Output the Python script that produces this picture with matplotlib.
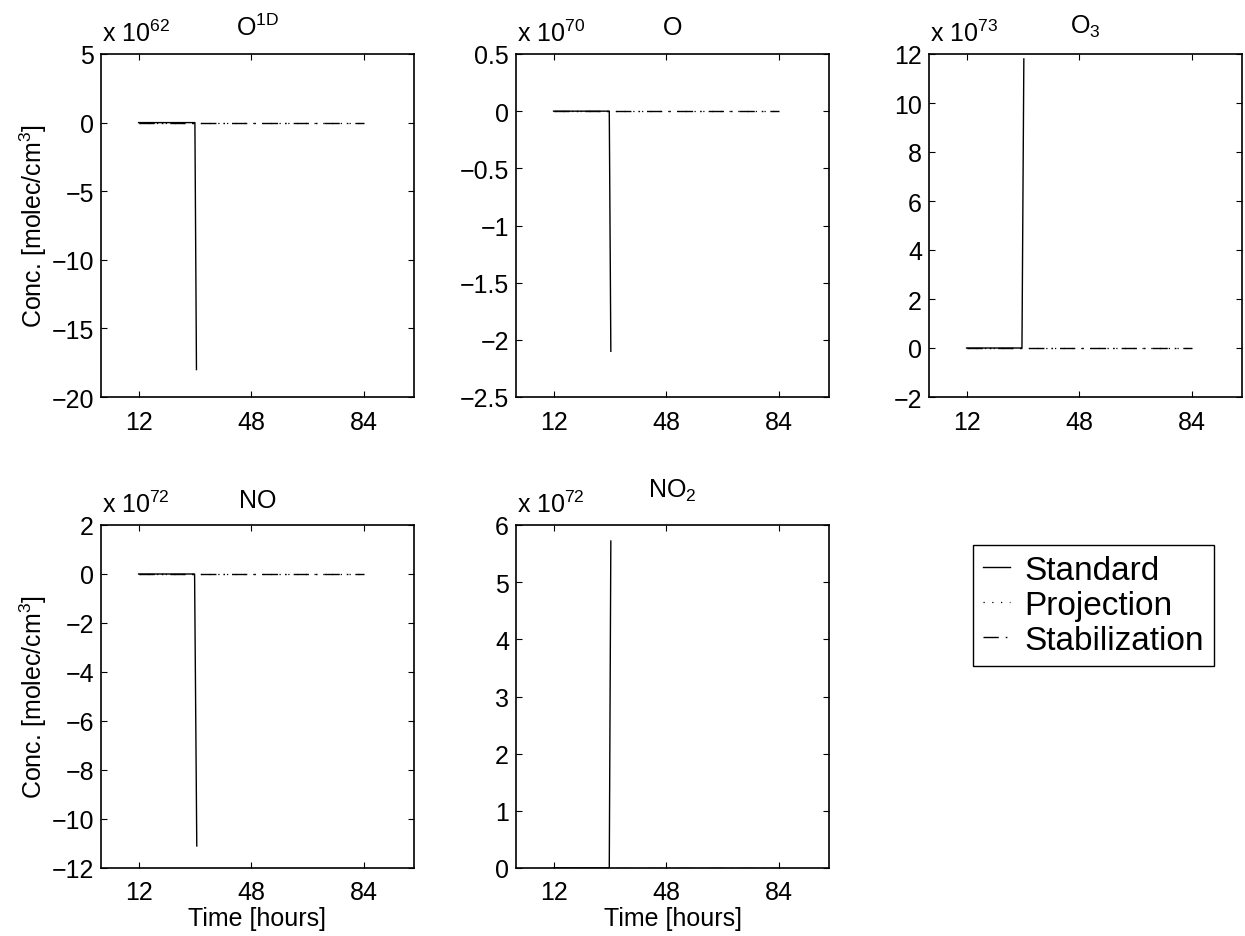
import numpy as np
import matplotlib
matplotlib.use("Agg")
import matplotlib.pyplot as plt
from matplotlib.ticker import FuncFormatter

plt.rcParams['font.family'] = ['Liberation Sans', 'DejaVu Sans']
plt.rcParams['mathtext.fontset'] = 'custom'
plt.rcParams['mathtext.rm'] = 'Liberation Sans'
plt.rcParams['mathtext.it'] = 'Liberation Sans:italic'
plt.rcParams['mathtext.bf'] = 'Liberation Sans:bold'

# --- data (values in units of 10^exponent molec/cm^3) ---
species = [r'O$^{\mathrm{1D}}$', 'O', 'O$_3$', 'NO', 'NO$_2$']
exponents = [62, 70, 73, 72, 72]

# standard run: flat then blows up around t ~ 30 h
t_standard = [[12, 30.0, 30.5], [12, 29.8, 30.3], [12, 29.7, 30.3],
              [12, 29.9, 30.6], [12, 29.8, 30.3]]
c_standard = [[0, 0, -18.0], [0, 0, -2.1], [0, 0, 11.8],
              [0, 0, -11.1], [0, 0, 5.72]]

# projection / stabilization stay ~0 over whole window
t_full = [12, 84]
c_projection = [0, 0]
c_stabilization = [0, 0]

ylims = [(-20, 5), (-2.5, 0.5), (-2, 12), (-12, 2), (0, 6)]
yticks = [[-20, -15, -10, -5, 0, 5],
          [-2.5, -2, -1.5, -1, -0.5, 0, 0.5],
          [-2, 0, 2, 4, 6, 8, 10, 12],
          [-12, -10, -8, -6, -4, -2, 0, 2],
          [0, 1, 2, 3, 4, 5, 6]]
xticks = [12, 48, 84]

# --- layout (figure fractions) ---
W, H = 1245, 937
lefts = [101, 516, 929, 101, 516]
tops = [55, 55, 55, 526, 526]
aw, ah = 313, 343
title_pads = [13.5, 14.2, 15.5, 13.0, 20.5]
fs = 18

fmt = FuncFormatter(lambda v, p: ('%g' % v).replace('-', '\u2212'))

fig = plt.figure(figsize=(W / 100, H / 100), dpi=100)
for i in range(5):
    ax = fig.add_axes([lefts[i] / W, 1 - (tops[i] + ah) / H, aw / W, ah / H])
    l1, = ax.plot(t_standard[i], c_standard[i], color='black', lw=1.0, ls='-',
                  label='Standard')
    l2, = ax.plot(t_full, c_projection, color='black', lw=0.9, ls=(0, (1, 6)),
                  label='Projection')
    l3, = ax.plot(t_full, c_stabilization, color='black', lw=1.0,
                  ls=(0, (11, 5, 1.2, 5)), label='Stabilization')
    ax.set_xlim(0, 100)
    ax.set_ylim(*ylims[i])
    ax.set_xticks(xticks)
    ax.set_yticks(yticks[i])
    ax.yaxis.set_major_formatter(fmt)
    ax.tick_params(direction='in', length=4, width=0.8, top=True, right=True,
                   labelsize=fs)
    ax.tick_params(axis='x', pad=9)
    ax.tick_params(axis='y', pad=5)
    for s in ax.spines.values():
        s.set_linewidth(1.2)
    ax.set_title(species[i], fontsize=fs, pad=title_pads[i])
    ax.text(0.003, 1 + 8 / ah, r'x 10$^{%d}$' % exponents[i],
            transform=ax.transAxes, fontsize=fs, ha='left', va='bottom')
    if i in (0, 3):
        ax.set_ylabel('Conc. [molec/cm$^3$]', fontsize=fs, labelpad=2)
    if i >= 3:
        ax.set_xlabel('Time [hours]', fontsize=fs, labelpad=1)

leg = fig.legend([l1, l2, l3], ['Standard', 'Projection', 'Stabilization'],
                 loc='upper left', bbox_to_anchor=(973 / W, 1 - 546 / H),
                 bbox_transform=fig.transFigure, borderaxespad=0,
                 fontsize=24, handlelength=0.8, handletextpad=0.45,
                 labelspacing=0.12, borderpad=0.3, fancybox=False,
                 framealpha=1, edgecolor='black')
leg.get_frame().set_linewidth(1.0)

fig.savefig('out.png', dpi=100, facecolor='white')
